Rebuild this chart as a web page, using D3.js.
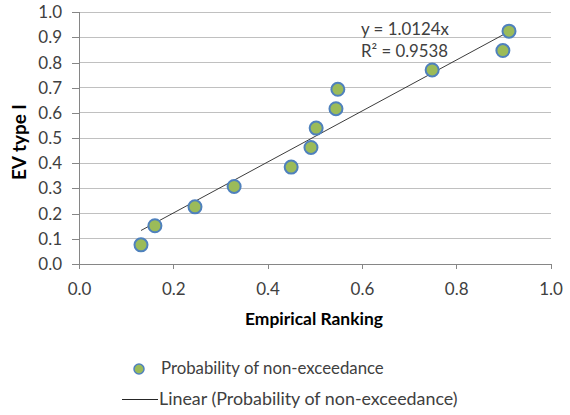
<!DOCTYPE html>
<html><head><meta charset="utf-8">
<script src="https://cdn.jsdelivr.net/npm/d3@7"></script>
<style>body{margin:0;background:#fff}svg{display:block}text{font-family:Lato,"Open Sans",sans-serif;fill:#404040}</style>
</head><body><svg id="c" width="570" height="415"></svg>
<script>
const xValues = [0.1315, 0.161, 0.246, 0.329, 0.450, 0.492, 0.503, 0.545, 0.549, 0.749, 0.899, 0.912];
const yValues = [0.076, 0.152, 0.227, 0.308, 0.385, 0.463, 0.540, 0.617, 0.694, 0.771, 0.848, 0.925];
const slope = 1.0124;
const r2 = 0.9538;
const xTicks = [0, 0.2, 0.4, 0.6, 0.8, 1.0];
const yTicks = [0, 0.1, 0.2, 0.3, 0.4, 0.5, 0.6, 0.7, 0.8, 0.9, 1.0];
const seriesName = "Probability of non-exceedance";
const trendName = "Linear (Probability of non-exceedance)";
const xTitle = "Empirical Ranking";
const yTitle = "EV type I";

const svg = d3.select("#c");
const x = d3.scaleLinear().domain([0, 1]).range([79, 550.5]);
const y = d3.scaleLinear().domain([0, 1]).range([264, 12.3]);
const fill = "#9BBB59", stroke = "#4F81BD";

function fit(sel, w) {
  const node = sel.node();
  let fs = parseFloat(sel.style("font-size"));
  const len = node.getComputedTextLength();
  if (len > 0) sel.style("font-size", (fs * w / len).toFixed(2) + "px");
  return sel;
}

// gridlines
svg.append("g").selectAll("line").data(yTicks.slice(1)).join("line")
  .attr("x1", x(0)).attr("x2", x(1)).attr("y1", d => y(d)).attr("y2", d => y(d))
  .attr("stroke", "#c0c0c0").attr("stroke-width", 1).attr("shape-rendering", "crispEdges");

// y axis
const yAxis = svg.append("g").attr("transform", `translate(${x(0)},0)`)
  .call(d3.axisLeft(y).tickValues(yTicks).tickFormat(d3.format(".1f")).tickSize(7).tickPadding(10));
// x axis
const xAxis = svg.append("g").attr("transform", `translate(0,${y(0)})`)
  .call(d3.axisBottom(x).tickValues(xTicks).tickFormat(d3.format(".1f")).tickSize(5).tickPadding(9));
[yAxis, xAxis].forEach(a => {
  a.select(".domain").attr("stroke", "#868686").attr("shape-rendering", "crispEdges");
  a.selectAll(".tick line").attr("stroke", "#868686").attr("shape-rendering", "crispEdges");
  a.selectAll(".tick text").style("font-size", "17px").style("fill", "#404040").style("font-family", "Lato, sans-serif");
});
xAxis.selectAll(".tick text").attr("y", 31).attr("dy", 0);

// trendline
const xmin = d3.min(xValues), xmax = d3.max(xValues);
svg.append("line").attr("x1", x(xmin)).attr("y1", y(slope * xmin))
  .attr("x2", x(xmax)).attr("y2", y(slope * xmax))
  .attr("stroke", "#262626").attr("stroke-width", 0.9);

// points
svg.append("g").selectAll("circle").data(xValues.map((v, i) => [v, yValues[i]])).join("circle")
  .attr("cx", d => x(d[0])).attr("cy", d => y(d[1])).attr("r", 6.5)
  .attr("fill", fill).attr("stroke", stroke).attr("stroke-width", 2);

// equation
fit(svg.append("text").attr("x", 361).attr("y", 35).style("font-size", "16px").text(`y = ${slope.toFixed(4)}x`), 88);
fit(svg.append("text").attr("x", 361).attr("y", 57).style("font-size", "16px").text(`R² = ${r2.toFixed(4)}`), 87);

// titles
fit(svg.append("text").attr("x", 245).attr("y", 325)
  .style("font-size", "16px").style("font-weight", "bold").style("fill", "#000").text(xTitle), 138);
fit(svg.append("text").attr("transform", `translate(26,180) rotate(-90)`)
  .style("font-size", "16px").style("font-weight", "bold").style("fill", "#000").text(yTitle), 76);

// legend
svg.append("circle").attr("cx", 139).attr("cy", 369).attr("r", 5).attr("fill", fill).attr("stroke", stroke).attr("stroke-width", 1.5);
fit(svg.append("text").attr("x", 161).attr("y", 374).style("font-size", "16px").text(seriesName), 223);
svg.append("line").attr("x1", 122).attr("x2", 158).attr("y1", 399.5).attr("y2", 399.5).attr("stroke", "#262626").attr("stroke-width", 1);
fit(svg.append("text").attr("x", 159).attr("y", 405).style("font-size", "16px").text(trendName), 299);
</script></body></html>
